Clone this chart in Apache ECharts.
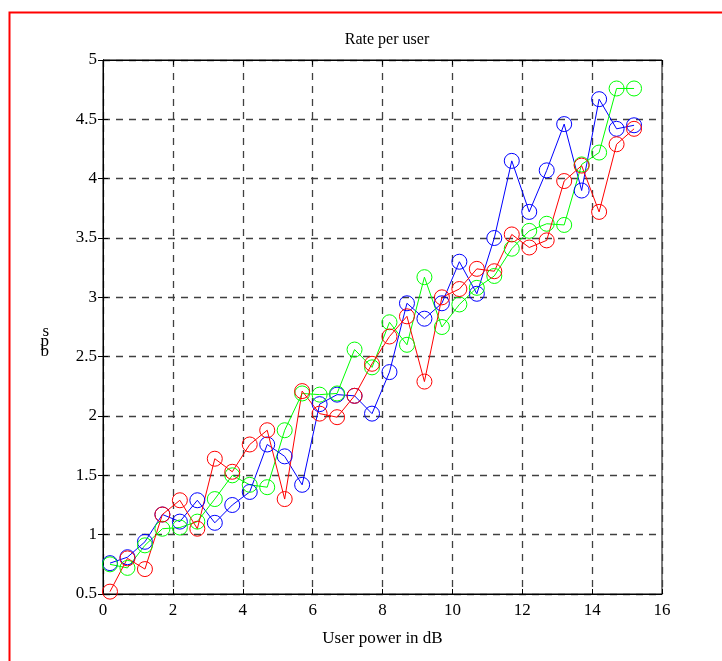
<!DOCTYPE html>
<html>
<head>
<meta charset="utf-8">
<script src="https://cdn.jsdelivr.net/npm/echarts@6/dist/echarts.min.js"></script>
<style>
  html, body { margin: 0; padding: 0; background: #fff; }
  #chart { width: 722px; height: 661px; }
</style>
</head>
<body>
<div id="chart"></div>
<script>
  // user power (dB) at each sample
  const powerDb = [0.2, 0.7, 1.2, 1.7, 2.2, 2.7, 3.2, 3.7, 4.2, 4.7, 5.2, 5.7, 6.2, 6.7, 7.2, 7.7,
    8.2, 8.7, 9.2, 9.7, 10.2, 10.7, 11.2, 11.7, 12.2, 12.7, 13.2, 13.7, 14.2, 14.7, 15.2]

  const rateRed = [0.52, 0.80, 0.71, 1.17, 1.29, 1.05, 1.64, 1.53, 1.76, 1.88, 1.30, 2.21, 2.02, 1.99, 2.17, 2.44,
    2.67, 2.84, 2.29, 3.00, 3.07, 3.24, 3.22, 3.53, 3.42, 3.48, 3.98, 4.11, 3.72, 4.29, 4.42]
  const rateGreen = [0.75, 0.72, 0.91, 1.05, 1.06, 1.11, 1.30, 1.50, 1.42, 1.40, 1.88, 2.19, 2.18, 2.19, 2.56, 2.41,
    2.79, 2.60, 3.17, 2.75, 2.94, 3.08, 3.18, 3.41, 3.56, 3.62, 3.61, 4.12, 4.22, 4.76, 4.76]
  const rateBlue = [0.76, 0.81, 0.94, 1.17, 1.11, 1.29, 1.10, 1.25, 1.36, 1.76, 1.66, 1.42, 2.10, 2.18, 2.17, 2.02,
    2.37, 2.95, 2.82, 2.95, 3.30, 3.03, 3.50, 4.15, 3.72, 4.07, 4.46, 3.90, 4.67, 4.42, 4.45]

  const xTicks = { min: 0, max: 16, interval: 2 }
  const yTicks = { min: 0.5, max: 5, interval: 0.5 }

  const font = 'Liberation Serif'

  const chart = echarts.init(document.getElementById('chart'), null, { renderer: 'canvas' })

  const pairs = (ys) => powerDb.map((x, i) => [x, ys[i]])

  // open circles drawn with a thin 1px ring, like the matlab 'o' marker
  const lineSeries = (name, color, ys) => ({
    name,
    type: 'line',
    data: pairs(ys),
    symbol: 'circle',
    symbolSize: 15,
    showSymbol: true,
    animation: false,
    lineStyle: { color, width: 1 },
    itemStyle: { color: 'rgba(0,0,0,0)', borderColor: color, borderWidth: 1 },
    emphasis: { disabled: true }
  })

  const tickCommon = {
    axisTick: { show: true, inside: true, length: 5, lineStyle: { color: '#000' } },
    axisLine: { show: true, lineStyle: { color: '#000', width: 1 } }
  }

  const gridDash = { show: true, lineStyle: { color: '#404040', type: [7, 6], width: 1.3 } }

  const option = {
    backgroundColor: '#fff',
    animation: false,
    title: {
      text: 'Rate per user',
      left: 382,
      textAlign: 'center',
      top: 27,
      textStyle: { fontFamily: font, fontSize: 16, fontWeight: 'normal', color: '#000' }
    },
    grid: { left: 103, right: 60, top: 60, bottom: 67, show: true, borderColor: '#000', borderWidth: 1 },
    xAxis: [
      {
        type: 'value',
        ...xTicks,
        ...tickCommon,
        name: 'User power in dB',
        nameLocation: 'middle',
        nameGap: 36,
        nameTextStyle: { fontFamily: font, fontSize: 17, color: '#000' },
        axisLabel: { fontFamily: font, fontSize: 17, color: '#000', margin: 8 },
        splitLine: gridDash
      },
      {
        type: 'value',
        position: 'top',
        ...xTicks,
        ...tickCommon,
        axisLabel: { show: false },
        splitLine: { show: false }
      }
    ],
    yAxis: [
      {
        type: 'value',
        ...yTicks,
        ...tickCommon,
        // stacked letters sit a little below the axis middle in the original
        name: '\n\n\ns\np\nb',
        nameLocation: 'middle',
        nameRotate: 0,
        nameGap: 54,
        nameTextStyle: { fontFamily: font, fontSize: 17, color: '#000', lineHeight: 10 },
        axisLabel: { fontFamily: font, fontSize: 17, color: '#000', margin: 6 },
        splitLine: gridDash
      },
      {
        type: 'value',
        position: 'right',
        ...yTicks,
        ...tickCommon,
        axisLabel: { show: false },
        splitLine: { show: false }
      }
    ],
    series: [
      lineSeries('blue', '#0000ff', rateBlue),
      lineSeries('green', '#00ff00', rateGreen),
      lineSeries('red', '#ff0000', rateRed)
    ],
    graphic: [
      {
        type: 'rect',
        left: 7,
        top: 10,
        shape: { width: 800, height: 800 },
        style: { fill: 'none', stroke: '#ff0000', lineWidth: 2 },
        silent: true
      }
    ]
  }

  chart.setOption(option)
</script>
</body>
</html>
